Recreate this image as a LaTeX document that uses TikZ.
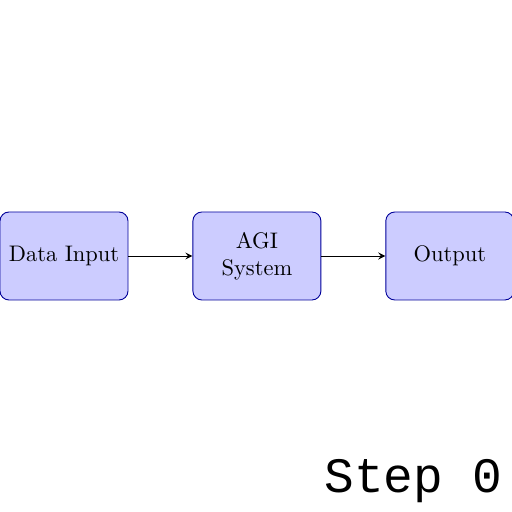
\documentclass[tikz,border=0pt]{standalone}
\usepackage{fontspec}
\newfontfamily\stepfont{Liberation Mono}
\usepackage{tikz}
\usetikzlibrary{positioning,arrows}

\tikzset{
  block/.style={draw=blue!60!black, fill=blue!20, rounded corners, minimum width=2cm, minimum height=1.375cm, align=center},
}

\begin{document}
\begin{tikzpicture}[node distance=1cm, >=stealth]
  \useasboundingbox (0,0) rectangle (8,8);
  \node [block] (input) at (1,4) {Data Input};
  \node [block, right=of input] (agi) {AGI\\ System};
  \node [block, right=of agi] (output) {Output};
  \path[->]
  (input) edge (agi)
  (agi) edge (output)
  ;
  \node [anchor=base east, inner sep=0pt] (step) at (7.86,0.3) {\stepfont\fontsize{22}{26}\selectfont Step 0};
\end{tikzpicture}
\end{document}
